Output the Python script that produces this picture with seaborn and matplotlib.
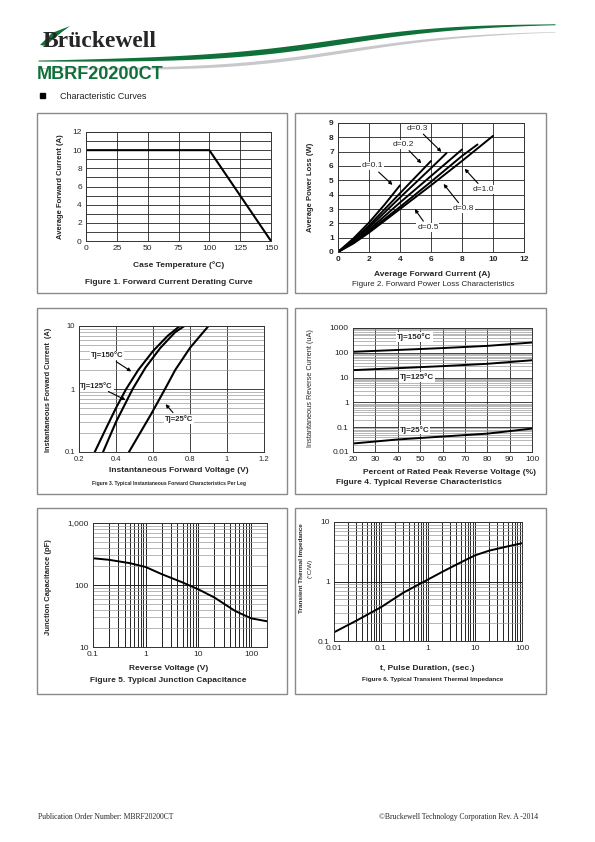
import numpy as np
import pandas as pd
import matplotlib
matplotlib.use("Agg")
import matplotlib.pyplot as plt
import seaborn as sns
from matplotlib.patches import Rectangle, Polygon
from matplotlib.ticker import FixedLocator, NullFormatter, LogLocator

# ---- data ----
# Fig 1: derating
case_temp = [0, 100, 150]
avg_current = [10, 10, 0]

# Fig 2: power loss per duty cycle
loss_d = {
    "0.1": ([0, 1, 2, 3, 4], [0, 0.95, 2.05, 3.3, 4.65]),
    "0.2": ([0, 1, 2, 4, 6], [0, 0.85, 1.85, 4.1, 6.35]),
    "0.3": ([0, 1, 2, 4, 6, 7], [0, 0.8, 1.7, 3.8, 5.85, 6.9]),
    "0.5": ([0, 1, 2, 4, 6, 8], [0, 0.7, 1.55, 3.45, 5.3, 7.15]),
    "0.8": ([0, 1, 2, 4, 6, 8, 9], [0, 0.65, 1.45, 3.15, 4.9, 6.7, 7.5]),
    "1.0": ([0, 1, 2, 4, 6, 8, 10], [0, 0.6, 1.35, 3.0, 4.65, 6.35, 8.1]),
}

# Fig 3: forward characteristics
vf_150 = [0.285, 0.35, 0.40, 0.455, 0.52, 0.60, 0.68, 0.745]
if_150 = [0.1, 0.25, 0.5, 1.0, 2.0, 4.0, 7.0, 10.0]
vf_125 = [0.33, 0.40, 0.49, 0.56, 0.64, 0.72, 0.77]
if_125 = [0.1, 0.3, 1.0, 2.2, 4.5, 8.0, 10.0]
vf_25 = [0.47, 0.53, 0.59, 0.665, 0.72, 0.80, 0.90]
if_25 = [0.1, 0.2, 0.4, 1.0, 2.0, 4.5, 10.0]

# Fig 4: reverse characteristics
pct_vr = [20, 40, 60, 80, 100]
ir_150 = [110, 130, 155, 190, 260]
ir_125 = [20, 24, 29, 36, 50]
ir_25 = [0.022, 0.032, 0.042, 0.055, 0.088]

# Fig 5: junction capacitance
vr = [0.1, 0.2, 0.5, 1, 2, 5, 10, 20, 50, 100, 200]
cj = [270, 255, 225, 195, 150, 110, 85, 63, 38, 29, 26]

# Fig 6: transient thermal impedance
t_pulse = [0.01, 0.03, 0.1, 0.3, 1, 2, 5, 10, 20, 50, 100]
zth = [0.14, 0.22, 0.37, 0.65, 1.08, 1.45, 2.1, 2.75, 3.3, 3.9, 4.4]

W, H = 595, 842
sns.set_style("white")
plt.rcParams['font.family'] = ['Liberation Sans', 'DejaVu Sans']
GREEN = "#0f7039"

fig = plt.figure(figsize=(W / 100, H / 100), dpi=100)

# page overlay in pixel coordinates (decorations, frames)
page = fig.add_axes([0, 0, 1, 1], zorder=-1)
page.set_xlim(0, W)
page.set_ylim(H, 0)
page.axis("off")


def add_ax(x0, y0, x1, y1):
    return fig.add_axes([x0 / W, 1 - y1 / H, (x1 - x0) / W, (y1 - y0) / H])


def ftext(x, y, s, **kw):
    fig.text(x / W, 1 - y / H, s, **kw)


def style(ax, labelsize=6, bold=False):
    ax.tick_params(length=0, labelsize=labelsize, pad=3)
    for sp in ax.spines.values():
        sp.set_color("#333333")
        sp.set_linewidth(0.7)
    if bold:
        for t in ax.get_xticklabels() + ax.get_yticklabels():
            t.set_fontweight("bold")
    ax.set_xlabel("")
    ax.set_ylabel("")


# ---- header ----
xs = np.linspace(38, 555, 240)
yc = 61 - 38 * (1 / (1 + np.exp(-(xs - 340) / 65)))
thick = 1 + 4.5 * np.sin(np.clip((xs - 38) / 510, 0, 1) * np.pi) ** 1.1
page.fill_between(xs, yc + 7 + thick * 0.2, yc + 7 + thick * 0.8, color="#c8c8cc", lw=0)
page.fill_between(xs, yc - thick * 0.6, yc + thick * 0.4, color=GREEN, lw=0)
page.add_patch(Polygon([[40, 45], [52, 33], [70, 26], [62, 32], [52, 40], [46, 46]],
                       closed=True, color=GREEN, lw=0))
ftext(43, 47, "Brückewell", fontsize=17, fontweight="bold", family="Liberation Serif",
      va="baseline")
ftext(37, 79, "MBRF20200CT", fontsize=13, fontweight="bold", color=GREEN, va="baseline")
page.add_patch(Rectangle((40, 93), 5, 5, color="black"))
ftext(60, 99, "Characteristic Curves", fontsize=6.5, va="baseline", color="#222222")

# panel frames
for (x0, y0, x1, y1) in [(37, 113, 287, 293), (295, 113, 546, 293),
                         (37, 308, 287, 494), (295, 308, 546, 494),
                         (37, 508, 287, 694), (295, 508, 546, 694)]:
    page.add_patch(Rectangle((x0, y0), x1 - x0, y1 - y0, fill=False, ec="#8a8a8a", lw=1))

# ---- Figure 1 ----
ax1 = add_ax(86, 132, 271, 241)
sns.lineplot(x=case_temp, y=avg_current, ax=ax1, color="black", lw=1.5)
ax1.set_xlim(0, 150)
ax1.set_ylim(0, 12)
ax1.set_xticks(range(0, 151, 25))
ax1.set_yticks(range(0, 13, 2))
ax1.yaxis.set_minor_locator(FixedLocator(range(0, 13)))
ax1.grid(True, which="both", color="#222222", lw=0.6)
style(ax1)
ftext(61, 187, "Average Forward Current (A)", rotation=90, fontsize=5.5,
      fontweight="bold", ha="center", va="center")
ftext(179, 265, "Case Temperature (°C)", fontsize=6, fontweight="bold", ha="center", va="center")
ftext(169, 282, "Figure 1. Forward Current Derating Curve", fontsize=6,
      fontweight="bold", ha="center", va="center")

# ---- Figure 2 ----
ax2 = add_ax(338, 123, 524, 252)
rows = []
for d, (xv, yv) in loss_d.items():
    for a, b in zip(xv, yv):
        rows.append({"current": a, "loss": b, "d": d})
df2 = pd.DataFrame(rows)
sns.lineplot(data=df2, x="current", y="loss", hue="d", palette={k: "black" for k in loss_d},
             legend=False, ax=ax2, lw=1.4)
ax2.set_xlim(0, 12)
ax2.set_ylim(0, 9)
ax2.set_xticks(range(0, 13, 2))
ax2.set_yticks(range(0, 10))
ax2.grid(True, color="#222222", lw=0.6)
style(ax2, bold=True)
arrow = dict(arrowstyle="-|>", color="black", lw=0.8, mutation_scale=5)
for txt, tpos, head in [("d=0.3", (5.1, 8.65), (6.8, 6.85)),
                        ("d=0.2", (4.2, 7.5), (5.5, 6.05)),
                        ("d=0.1", (2.2, 6.0), (3.65, 4.55)),
                        ("d=1.0", (9.4, 4.35), (8.05, 5.95)),
                        ("d=0.8", (8.1, 3.0), (6.7, 4.9)),
                        ("d=0.5", (5.8, 1.7), (4.85, 3.15))]:
    ax2.annotate(txt, xy=head, xytext=tpos, fontsize=6, ha="center", va="center",
                 arrowprops=arrow, bbox=dict(fc="white", ec="none", pad=0.5))
ftext(310, 187, "Average Power Loss (W)", rotation=90, fontsize=5.5,
      fontweight="bold", ha="center", va="center")
ftext(432, 274, "Average Forward Current (A)", fontsize=6, fontweight="bold",
      ha="center", va="center")
ftext(433, 285, "Figure 2. Forward Power Loss Characteristics", fontsize=5.8,
      ha="center", va="center")

# ---- Figure 3 ----
ax3 = add_ax(79, 326, 264, 452)
df3 = pd.DataFrame({
    "vf": vf_150 + vf_125 + vf_25,
    "if": if_150 + if_125 + if_25,
    "tj": ["150"] * len(vf_150) + ["125"] * len(vf_125) + ["25"] * len(vf_25),
})
ax3.set_yscale("log")
sns.lineplot(data=df3, x="vf", y="if", hue="tj", palette={"150": "k", "125": "k", "25": "k"},
             legend=False, ax=ax3, lw=1.5, sort=False)
ax3.set_xlim(0.2, 1.2)
ax3.set_ylim(0.1, 10)
ax3.set_xticks([0.2, 0.4, 0.6, 0.8, 1.0, 1.2])
ax3.set_xticklabels(["0.2", "0.4", "0.6", "0.8", "1", "1.2"])
ax3.set_yticks([0.1, 1, 10])
ax3.set_yticklabels(["0.1", "1", "10"])
ax3.yaxis.set_minor_locator(LogLocator(base=10, subs=np.arange(2, 10)))
ax3.yaxis.set_minor_formatter(NullFormatter())
ax3.grid(True, which="major", color="#222222", lw=0.6)
ax3.grid(True, which="minor", axis="y", color="#9a9a9a", lw=0.5)
style(ax3, labelsize=5.5)
for txt, tpos, head in [("Tj=150°C", (0.35, 3.4), (0.495, 1.8)),
                        ("Tj=125°C", (0.295, 1.13), (0.465, 0.64)),
                        ("Tj=25°C", (0.74, 0.33), (0.658, 0.62))]:
    ax3.annotate(txt, xy=head, xytext=tpos, fontsize=5.5, fontweight="bold", ha="center",
                 va="center", arrowprops=arrow, bbox=dict(fc="white", ec="none", pad=0.5))
ftext(49, 390, "Instantaneous Forward Current  (A)", rotation=90, fontsize=5.3,
      fontweight="bold", ha="center", va="center")
ftext(179, 471, "Instantaneous Forward Voltage (V)", fontsize=6, fontweight="bold",
      ha="center", va="center")
ftext(169, 483, "Figure 3. Typical Instantaneous Forward Characteristics Per Leg", fontsize=3.6,
      fontweight="bold", ha="center", va="center")

# ---- Figure 4 ----
ax4 = add_ax(353, 328, 532, 452)
df4 = pd.DataFrame({
    "pct": pct_vr * 3,
    "ir": ir_150 + ir_125 + ir_25,
    "tj": ["150"] * 5 + ["125"] * 5 + ["25"] * 5,
})
ax4.set_yscale("log")
sns.lineplot(data=df4, x="pct", y="ir", hue="tj", palette={"150": "k", "125": "k", "25": "k"},
             legend=False, ax=ax4, lw=1.4)
ax4.set_xlim(20, 100)
ax4.set_ylim(0.01, 1000)
ax4.set_xticks(range(20, 101, 10))
ax4.set_yticks([0.01, 0.1, 1, 10, 100, 1000])
ax4.set_yticklabels(["0.01", "0.1", "1", "10", "100", "1000"])
ax4.yaxis.set_minor_locator(LogLocator(base=10, subs=np.arange(2, 10)))
ax4.yaxis.set_minor_formatter(NullFormatter())
ax4.grid(True, which="major", color="#222222", lw=0.6)
ax4.grid(True, which="minor", axis="y", color="#9a9a9a", lw=0.5)
style(ax4, labelsize=6)
for txt, tpos in [("Tj=150°C", (47.5, 430)), ("Tj=125°C", (48.5, 10.5)),
                  ("Tj=25°C", (47.5, 0.08))]:
    ax4.text(tpos[0], tpos[1], txt, fontsize=5.8, fontweight="bold", ha="center", va="center",
             bbox=dict(fc="white", ec="none", pad=0.6))
ftext(310, 388, "Instantaneous Reverse Current (uA)", rotation=90, fontsize=5.3,
      ha="center", va="center")
ftext(536, 472.5, "Percent of Rated Peak Reverse Voltage (%)", fontsize=6, fontweight="bold",
      ha="right", va="center")
ftext(336, 482, "Figure 4. Typical Reverse Characteristics", fontsize=6, fontweight="bold",
      ha="left", va="center")

# ---- Figure 5 ----
ax5 = add_ax(93, 523, 267, 647)
ax5.set_xscale("log")
ax5.set_yscale("log")
sns.lineplot(x=vr, y=cj, ax=ax5, color="black", lw=1.4)
ax5.set_xlim(0.1, 200)
ax5.set_ylim(10, 1000)
ax5.set_xticks([0.1, 1, 10, 100])
ax5.set_xticklabels(["0.1", "1", "10", "100"])
ax5.set_yticks([10, 100, 1000])
ax5.set_yticklabels(["10", "100", "1,000"])
for a in (ax5.xaxis, ax5.yaxis):
    a.set_minor_locator(LogLocator(base=10, subs=np.arange(2, 10)))
    a.set_minor_formatter(NullFormatter())
ax5.grid(True, which="major", color="#222222", lw=0.7)
ax5.grid(True, which="minor", axis="x", color="#222222", lw=0.7)
ax5.grid(True, which="minor", axis="y", color="#9a9a9a", lw=0.5)
style(ax5, labelsize=6)
ftext(49, 587, "Junction Capacitance (pF)", rotation=90, fontsize=5.5, fontweight="bold",
      ha="center", va="center")
ftext(169, 669, "Reverse Voltage (V)", fontsize=6, fontweight="bold", ha="center", va="center")
ftext(168, 681, "Figure 5. Typical Junction Capacitance", fontsize=6, fontweight="bold",
      ha="center", va="center")

# ---- Figure 6 ----
ax6 = add_ax(334, 522, 522, 641)
ax6.set_xscale("log")
ax6.set_yscale("log")
sns.lineplot(x=t_pulse, y=zth, ax=ax6, color="black", lw=1.4)
ax6.set_xlim(0.01, 100)
ax6.set_ylim(0.1, 10)
ax6.set_xticks([0.01, 0.1, 1, 10, 100])
ax6.set_xticklabels(["0.01", "0.1", "1", "10", "100"])
ax6.set_yticks([0.1, 1, 10])
ax6.set_yticklabels(["0.1", "1", "10"])
for a in (ax6.xaxis, ax6.yaxis):
    a.set_minor_locator(LogLocator(base=10, subs=np.arange(2, 10)))
    a.set_minor_formatter(NullFormatter())
ax6.grid(True, which="major", color="#222222", lw=0.7)
ax6.grid(True, which="minor", axis="x", color="#222222", lw=0.7)
ax6.grid(True, which="minor", axis="y", color="#9a9a9a", lw=0.5)
style(ax6, labelsize=6)
ftext(302, 568, "Transient Thermal Impedance", rotation=90, fontsize=4.6, fontweight="bold",
      ha="center", va="center")
ftext(310, 568, "(°C/W)", rotation=90, fontsize=4.6, ha="center", va="center")
ftext(427, 668, "t, Pulse Duration, (sec.)", fontsize=6, fontweight="bold", ha="center",
      va="center")
ftext(433, 679, "Figure 6. Typical Transient Thermal Impedance", fontsize=4.6,
      fontweight="bold", ha="center", va="center")

# ---- footer ----
ftext(38, 817, "Publication Order Number: MBRF20200CT", fontsize=5.5,
      family="Liberation Serif", va="center")
ftext(538, 817, "©Bruckewell Technology Corporation Rev. A -2014", fontsize=5.5,
      family="Liberation Serif", va="center", ha="right")

fig.savefig("out.png", dpi=100, facecolor="white")
